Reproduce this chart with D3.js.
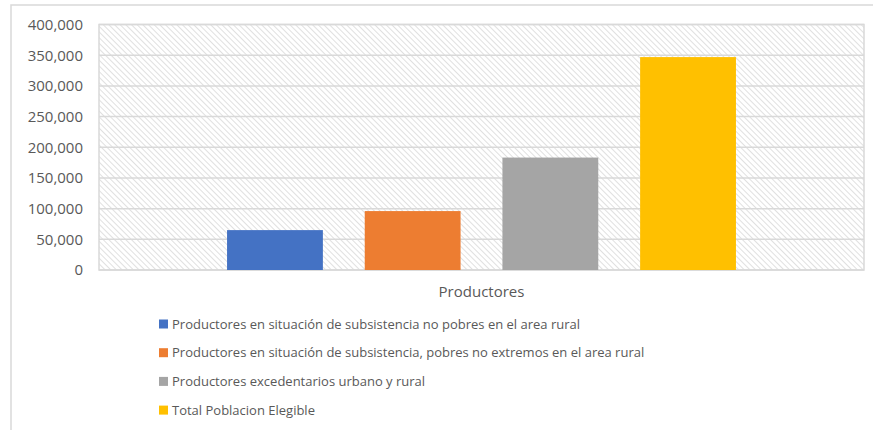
<!DOCTYPE html>
<html><head><meta charset="utf-8">
<script src="https://cdn.jsdelivr.net/npm/d3@7"></script>
<style>body{margin:0;background:#fff;}svg{display:block;font-family:"Open Sans",sans-serif;}</style>
</head><body>
<svg id="c" width="873" height="430"></svg>
<script>
const category = "Productores";
const series = [
  "Productores en situación de subsistencia no pobres en el area rural",
  "Productores en situación de subsistencia, pobres no extremos en el area rural",
  "Productores excedentarios urbano y rural",
  "Total Poblacion Elegible"
];
const values = [65000, 96000, 183200, 346900];
const colors = ["#4472c4", "#ed7d31", "#a5a5a5", "#ffc000"];
const yTicks = [0, 50000, 100000, 150000, 200000, 250000, 300000, 350000, 400000];

const svg = d3.select("#c");
const m = {l: 99, r: 864, t: 24.5, b: 270};

// outer chart border
svg.append("rect").attr("x", 11).attr("y", 5).attr("width", 880).attr("height", 440)
  .attr("fill", "#fff").attr("stroke", "#d9d9d9").attr("stroke-width", 1.5);

// hatch pattern
const defs = svg.append("defs");
const pat = defs.append("pattern").attr("id", "hatch").attr("patternUnits", "userSpaceOnUse")
  .attr("width", 4).attr("height", 4).attr("patternTransform", "rotate(45)");
pat.append("rect").attr("width", 4).attr("height", 4).attr("fill", "#fff");
pat.append("line").attr("x1", 0).attr("y1", 0).attr("x2", 4).attr("y2", 0)
  .attr("stroke", "#d6d6d6").attr("stroke-width", 1.5);

const y = d3.scaleLinear().domain([0, 400000]).range([m.b, m.t]);
const x0 = d3.scaleBand().domain([category]).range([m.l, m.r]).padding(0);
const x1 = d3.scaleBand().domain(series).range([m.l, m.r]).paddingInner(0.304).paddingOuter(0.93);

svg.append("rect").attr("x", m.l).attr("y", m.t).attr("width", m.r - m.l).attr("height", m.b - m.t)
  .attr("fill", "url(#hatch)").attr("stroke", "#d9d9d9").attr("stroke-width", 1.5);

// gridlines
svg.append("g").selectAll("line").data(yTicks).join("line")
  .attr("x1", m.l).attr("x2", m.r).attr("y1", d => y(d)).attr("y2", d => y(d))
  .attr("stroke", "#d9d9d9").attr("stroke-width", 1.5);

// y axis labels
const yAxis = svg.append("g").attr("transform", `translate(${m.l},0)`)
  .call(d3.axisLeft(y).tickValues(yTicks).tickFormat(d3.format(",")).tickSize(0).tickPadding(16));
yAxis.select(".domain").remove();
yAxis.selectAll("text").attr("fill", "#595959").style("font-size", "15px").style("font-family", "'Open Sans',sans-serif");

// bars
svg.append("g").selectAll("rect").data(series).join("rect")
  .attr("x", d => x1(d)).attr("width", x1.bandwidth())
  .attr("y", (d, i) => y(values[i])).attr("height", (d, i) => y(0) - y(values[i]))
  .attr("fill", (d, i) => colors[i]);

// x axis label
svg.append("text").attr("x", x0(category) + x0.bandwidth() / 2).attr("y", 297)
  .attr("text-anchor", "middle").attr("fill", "#595959").style("font-size", "15px").text(category);

// legend
const lg = svg.append("g").selectAll("g").data(series).join("g")
  .attr("transform", (d, i) => `translate(159,${324 + i * 28.7})`);
lg.append("rect").attr("x", 0).attr("y", -4.5).attr("width", 9).attr("height", 9).attr("fill", (d, i) => colors[i]);
lg.append("text").attr("x", 13).attr("y", 0).attr("dy", "0.35em").attr("fill", "#595959")
  .style("font-size", "13px").text(d => d);
</script>
</body></html>
